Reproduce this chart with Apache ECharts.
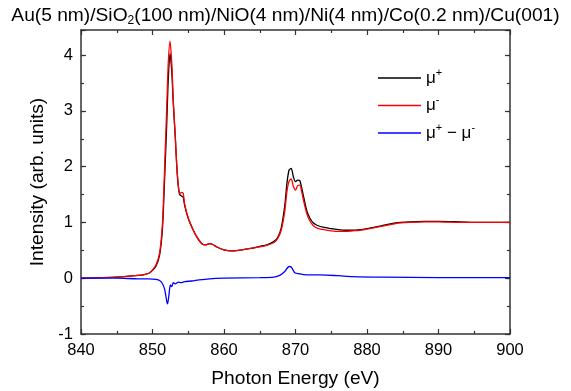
<!DOCTYPE html>
<html><head><meta charset="utf-8">
<script src="https://cdn.jsdelivr.net/npm/echarts@6/dist/echarts.min.js"></script>
<style>html,body{margin:0;padding:0;background:#fff}#c{width:571px;height:391px}</style>
</head><body><div id="c"></div>
<script>
const energyMain = [840, 843, 846, 848, 849, 849.5, 850, 850.5, 851, 851.4,
  851.7, 852.0, 852.2, 852.45, 852.7, 852.9, 853.2, 853.4, 853.6, 853.8,
  854.1, 854.3, 854.5, 855, 855.5, 856.2, 856.9, 857.5, 858, 858.5,
  859, 860, 861, 862, 863, 864, 865, 866, 867, 867.5,
  868, 868.5, 868.8, 869.1, 869.4, 869.7, 870.0, 870.3, 870.6, 870.9,
  871.2, 871.6, 872, 872.5, 873, 874, 875, 876, 877, 878,
  879, 880, 882, 884, 886, 888, 890, 893, 896, 900];
const muPlus = [0.00, 0.01, 0.03, 0.05, 0.07, 0.09, 0.14, 0.22, 0.42, 0.9,
  1.8, 2.8, 3.55, 4.03, 3.7, 3.15, 2.5, 2.0, 1.66, 1.5,
  1.47, 1.45, 1.3, 1.07, 0.92, 0.74, 0.62, 0.6, 0.62, 0.6,
  0.56, 0.51, 0.49, 0.5, 0.52, 0.54, 0.57, 0.6, 0.66, 0.73,
  0.9, 1.3, 1.7, 1.94, 1.97, 1.82, 1.73, 1.76, 1.75, 1.6,
  1.42, 1.2, 1.08, 0.99, 0.95, 0.91, 0.89, 0.87, 0.86, 0.86,
  0.87, 0.89, 0.94, 0.99, 1.01, 1.02, 1.02, 1.01, 1.0, 1.0];
const muMinus = [0.00, 0.01, 0.03, 0.05, 0.07, 0.09, 0.15, 0.24, 0.46, 1.0,
  2.0, 3.1, 3.85, 4.25, 3.85, 3.2, 2.5, 2.0, 1.68, 1.52,
  1.54, 1.52, 1.33, 1.08, 0.92, 0.74, 0.62, 0.6, 0.62, 0.6,
  0.56, 0.51, 0.49, 0.5, 0.52, 0.54, 0.56, 0.59, 0.64, 0.71,
  0.86, 1.2, 1.55, 1.74, 1.78, 1.65, 1.58, 1.66, 1.67, 1.53,
  1.35, 1.15, 1.03, 0.94, 0.9, 0.87, 0.85, 0.84, 0.84, 0.85,
  0.86, 0.88, 0.93, 0.98, 1.0, 1.01, 1.01, 1.0, 1.0, 1.0];
const energyDiff = [840, 845, 848, 849.5, 850.5, 851, 851.4, 851.7, 852.0, 852.1,
  852.3, 852.5, 852.7, 852.9, 853.2, 853.6, 854.0, 854.5, 855.5, 856.5,
  858, 860, 865, 867, 867.8, 868.5, 869.1, 869.4, 869.9, 870.5,
  871.5, 873.5, 876, 878, 882, 890, 900];
const muDiff = [0, 0, -0.01, -0.01, -0.02, -0.04, -0.1, -0.2, -0.42, -0.46,
  -0.3, -0.12, -0.15, -0.08, -0.1, -0.07, -0.08, -0.06, -0.05, -0.03,
  -0.01, 0, 0.01, 0.02, 0.05, 0.12, 0.21, 0.2, 0.1, 0.08,
  0.06, 0.06, 0.045, 0.03, 0.02, 0.01, 0.01];
const seriesNames = ['μ+', 'μ-', 'μ+ − μ-'];
const legendLabels = ['{m|μ}{s|+}', '{m|μ}{s|-}', '{m|μ}{s|+}{m| − μ}{s|-}'];
const titleText = 'Au(5 nm)/SiO{sub|2}(100 nm)/NiO(4 nm)/Ni(4 nm)/Co(0.2 nm)/Cu(001)';

const FONT = "'Liberation Sans', Arial, sans-serif";
const AX = '#333';
const pairs = (xs, ys) => xs.map((x, i) => [x, ys[i]]);

const chart = echarts.init(document.getElementById('c'), null, {renderer: 'canvas'});
const xBase = {type: 'value', min: 840, max: 900, interval: 10, splitLine: {show: false},
  axisLine: {onZero: false, lineStyle: {color: AX, width: 1.5}},
  axisTick: {inside: true, length: 5, lineStyle: {color: AX, width: 1.2}},
  minorTick: {show: true, splitNumber: 2, length: 3, lineStyle: {color: AX, width: 1.2}}};
const yMajor = {type: 'value', min: -1, max: 4.45, interval: 1, splitLine: {show: false},
  axisLine: {onZero: false, show: true, lineStyle: {color: AX, width: 1.5}},
  axisTick: {inside: true, length: 5, lineStyle: {color: AX, width: 1.2}}};
const yMinor = {type: 'value', min: -1, max: 4.45, interval: 0.5, splitLine: {show: false},
  axisLine: {show: false}, axisLabel: {show: false},
  axisTick: {inside: true, length: 3, lineStyle: {color: AX, width: 1.2}}};

chart.setOption({
  animation: false,
  backgroundColor: '#fff',
  title: {text: titleText, left: 'center', top: 0,
    textStyle: {fontFamily: FONT, fontSize: 19.2, fontWeight: 'normal', color: '#000', lineHeight: 22,
      rich: {sub: {fontFamily: FONT, fontSize: 12, color: '#000', lineHeight: 12, verticalAlign: 'bottom'}}}},
  grid: {left: 81, right: 61, top: 30, bottom: 57, containLabel: false, outerBoundsMode: 'none'},
  legend: {orient: 'vertical', left: 373, top: 62, itemWidth: 43, itemHeight: 1.3, itemGap: 8,
    data: seriesNames, icon: 'rect',
    formatter: name => legendLabels[seriesNames.indexOf(name)],
    textStyle: {fontFamily: FONT, color: '#000', rich: {
      m: {fontFamily: FONT, fontSize: 17, color: '#000', lineHeight: 22},
      s: {fontFamily: FONT, fontSize: 11, color: '#000', lineHeight: 10, verticalAlign: 'top'}}}},
  xAxis: [
    Object.assign({}, xBase, {position: 'bottom',
      axisLabel: {fontFamily: FONT, fontSize: 16.5, color: '#000', margin: 8},
      name: 'Photon Energy (eV)', nameLocation: 'middle', nameGap: 35,
      nameTextStyle: {fontFamily: FONT, fontSize: 19.2, color: '#000'}}),
    Object.assign({}, xBase, {position: 'top', axisLabel: {show: false}})
  ],
  yAxis: [
    Object.assign({}, yMajor, {position: 'left',
      axisLabel: {fontFamily: FONT, fontSize: 16.5, color: '#000', margin: 8,
        formatter: v => Math.abs(v - Math.round(v)) < 1e-9 ? String(Math.round(v)) : ''},
      name: 'Intensity (arb. units)', nameLocation: 'middle', nameGap: 33,
      nameTextStyle: {fontFamily: FONT, fontSize: 19.2, color: '#000'}}),
    Object.assign({}, yMinor, {position: 'left'}),
    Object.assign({}, yMajor, {position: 'right', axisLabel: {show: false}}),
    Object.assign({}, yMinor, {position: 'right'})
  ],
  series: [
    {name: seriesNames[0], type: 'line', data: pairs(energyMain, muPlus), symbol: 'none',
      smooth: 0.25, lineStyle: {color: '#000', width: 1.3}, itemStyle: {color: '#000'}},
    {name: seriesNames[1], type: 'line', data: pairs(energyMain, muMinus), symbol: 'none',
      smooth: 0.25, lineStyle: {color: '#ff0000', width: 1.3}, itemStyle: {color: '#ff0000'}},
    {name: seriesNames[2], type: 'line', data: pairs(energyDiff, muDiff), symbol: 'none',
      smooth: 0.25, lineStyle: {color: '#0000ff', width: 1.3}, itemStyle: {color: '#0000ff'}}
  ]
});
</script>
</body></html>
